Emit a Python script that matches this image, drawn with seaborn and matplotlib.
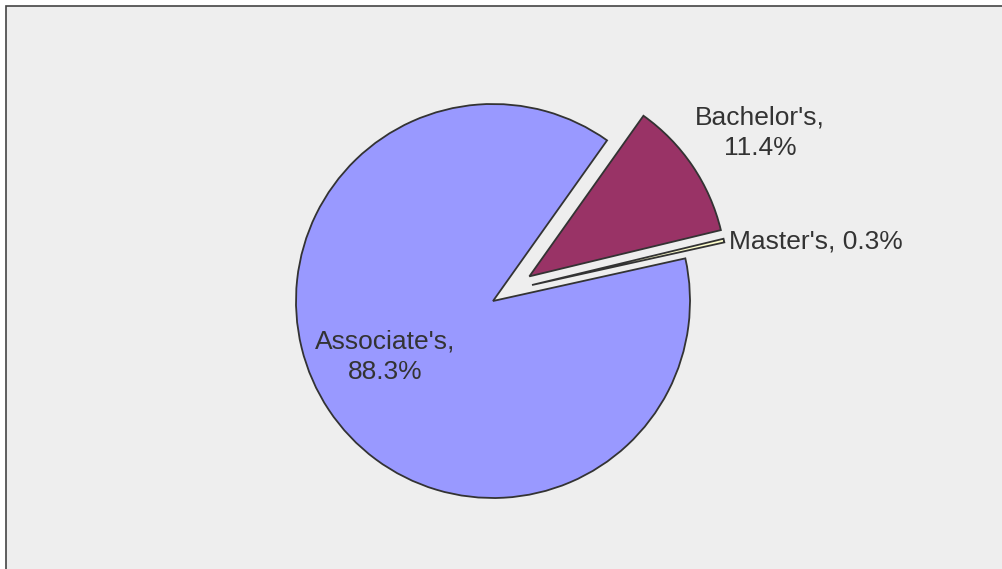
import matplotlib
matplotlib.use("Agg")
import matplotlib.pyplot as plt
from matplotlib.patches import Rectangle
import seaborn as sns

# degree shares
degrees = ["Associate's", "Bachelor's", "Master's"]
shares = [88.3, 11.4, 0.3]
colors = ["#9999FF", "#993366", "#FFFFCC"]

sns.set_theme(style="white")
plt.rcParams['font.family'] = ['Liberation Sans', 'DejaVu Sans']

W, H = 1002, 569
R = 197  # pie radius in pixels
fig = plt.figure(figsize=(W / 100, H / 100), dpi=100, facecolor="white")
ax = fig.add_axes([0, 0, 1, 1])

# chart area, only the top and left edges are visible
ax.add_patch(Rectangle((6, -20), W + 100, H - 6 + 20, facecolor="#EEEEEE",
                       edgecolor="#444444", linewidth=1.2, zorder=0))

# pie explode is an absolute offset here (data units = pixels)
explode = [0, 0.223 * R, 0.2 * R]
center = (493, H - 301)
wedges, _ = ax.pie(shares, colors=colors, explode=explode, startangle=12.5,
                   counterclock=False, radius=R, center=center,
                   wedgeprops=dict(edgecolor="#333333", linewidth=1.3))
for w in wedges:
    w.set_zorder(2)
# the thin master's slice sits a bit higher than its own bisector
wedges[2].set_center((532, H - 285))

ax.set_xlim(0, W)
ax.set_ylim(0, H)
ax.set_aspect("equal")
ax.axis("off")

txt = dict(fontsize=19, color="#333333", zorder=3, linespacing=1.35)
ax.text(385, H - 357, "{},\n{:.1f}%".format(degrees[0], shares[0]),
        ha="center", va="center", **txt)
ax.text(760, H - 133, "{},\n{:.1f}%".format(degrees[1], shares[1]),
        ha="center", va="center", **txt)
ax.text(729, H - 241, "{}, {:.1f}%".format(degrees[2], shares[2]),
        ha="left", va="center", **txt)

fig.savefig("out.png", dpi=100, facecolor="white")
